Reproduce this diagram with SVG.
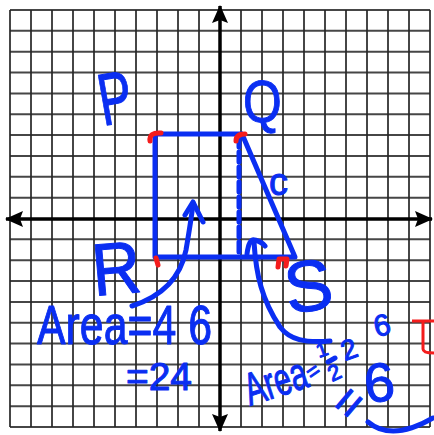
<svg xmlns="http://www.w3.org/2000/svg" width="434" height="435" viewBox="0 0 434 435">
<defs>
<style>
.grid{fill:none;stroke:#262626;stroke-width:2;opacity:0.85}
.axis{fill:none;stroke:#000;stroke-width:3.5}
.ink{fill:none;stroke:#0a2ef2;stroke-width:5;stroke-linecap:round;stroke-linejoin:round}
.red{fill:none;stroke:#f41c1c;stroke-width:5;stroke-linecap:round;stroke-linejoin:round}
.hw{font-family:"Liberation Sans",Arial,sans-serif;fill:#0a2ef2;stroke:#0a2ef2;stroke-width:1;stroke-linejoin:round}
</style>
<marker id="ah" viewBox="0 0 18 16" refX="17" refY="8" markerWidth="18" markerHeight="16" markerUnits="userSpaceOnUse" orient="auto">
<path d="M0,0 L18,8 L0,16 L3,8 z" fill="#000"/>
</marker>
</defs>
<rect width="434" height="435" fill="#fff"/>
<g id="grid">
<path class="grid" d="M10,10V427M31,10V427M52,10V427M73,10V427M94,10V427M115,10V427M136,10V427M157,10V427M178,10V427M199,10V427M241,10V427M262,10V427M283,10V427M304,10V427M325,10V427M346,10V427M367,10V427M388,10V427M409,10V427M430,10V427"/>
<path class="grid" d="M10,10H430M10,30.85H430M10,51.7H430M10,72.55H430M10,93.4H430M10,114.25H430M10,135.1H430M10,155.95H430M10,176.8H430M10,197.65H430M10,239.35H430M10,260.2H430M10,281.05H430M10,301.9H430M10,322.75H430M10,343.6H430M10,364.45H430M10,385.3H430M10,406.15H430M10,427H430"/>
</g>
<g id="axes">
<path class="axis" d="M220,219V6" marker-end="url(#ah)"/>
<path class="axis" d="M220,219V431" marker-end="url(#ah)"/>
<path class="axis" d="M220,219H6" marker-end="url(#ah)"/>
<path class="axis" d="M220,219H432" marker-end="url(#ah)"/>
</g>
<g id="trapezoid">
<path class="ink" d="M242,134 L155,134 L155,257 L295,257 L242,134"/>
<path class="ink" d="M239,137 V255" stroke-dasharray="10 5" stroke-linecap="butt"/>
</g>
<g id="vertex-marks">
<path class="red" d="M150,141 Q149,132 161,133"/>
<path class="red" d="M236,141 Q236,134 245,134"/>
<path class="red" d="M156,258 L158,265" stroke-width="7"/>
<path class="red" d="M278,267 L279,259 L287,259 L286,266" stroke-width="5"/>
<path d="M412,321 H434 M423,321 V349 Q423,353 434,353" fill="none" stroke="#f41c1c" stroke-width="3"/>
</g>
<g id="label-P"><text class="hw" font-size="74" transform="translate(103,126) rotate(-10) scale(0.68,1)">P</text></g>
<g id="label-Q"><text class="hw" font-size="60" transform="translate(243,122) scale(0.83,1)">Q</text></g>
<g id="label-c"><text class="hw" font-size="38" x="269" y="195">c</text></g>
<g id="label-R"><text class="hw" font-size="74" transform="translate(94,296) rotate(-5) scale(0.92,1)">R</text></g>
<g id="label-S"><text class="hw" font-size="72" transform="translate(288,314) rotate(-8)">S</text></g>
<g id="connectors">
<path class="ink" d="M132,306 C160,297 180,280 186,250 C189,232 192,215 193,203"/>
<path class="ink" d="M185,215 L193,202 L203,222"/>
<path class="ink" d="M254,242 C256,275 262,300 280,327 C290,340 305,343 330,341"/>
<path class="ink" d="M247,254 Q249,238 255,240 Q262,242 265,246"/>
</g>
<g id="area-rectangle">
<text class="hw" font-size="56" x="37" y="344" textLength="175" lengthAdjust="spacingAndGlyphs">Area=4 6</text>
<text class="hw" font-size="38" x="126" y="390" textLength="66" lengthAdjust="spacingAndGlyphs">=24</text>
</g>
<g id="area-triangle">
<text class="hw" font-size="46" textLength="64" lengthAdjust="spacingAndGlyphs" transform="translate(250,406) rotate(-18)">Area</text>
<text class="hw" font-size="22" transform="translate(312,381) rotate(-35)">=</text>
<text class="hw" font-size="20" transform="translate(319,358) rotate(-20)">1</text>
<path class="ink" d="M328,362 L335,358" stroke-width="4"/>
<text class="hw" font-size="22" transform="translate(332,382) rotate(-25)">2</text>
<text class="hw" font-size="28" transform="translate(345,361) rotate(-20)">2</text>
<text class="hw" font-size="30" transform="translate(376,337) rotate(-12)">6</text>
<text class="hw" font-size="48" text-anchor="middle" transform="translate(348,402) rotate(-50)" y="17">=</text>
<text class="hw" font-size="55" transform="translate(366,403) rotate(-6)">6</text>
<path class="ink" d="M368,422 Q392,442 433,418"/>
</g>
</svg>
